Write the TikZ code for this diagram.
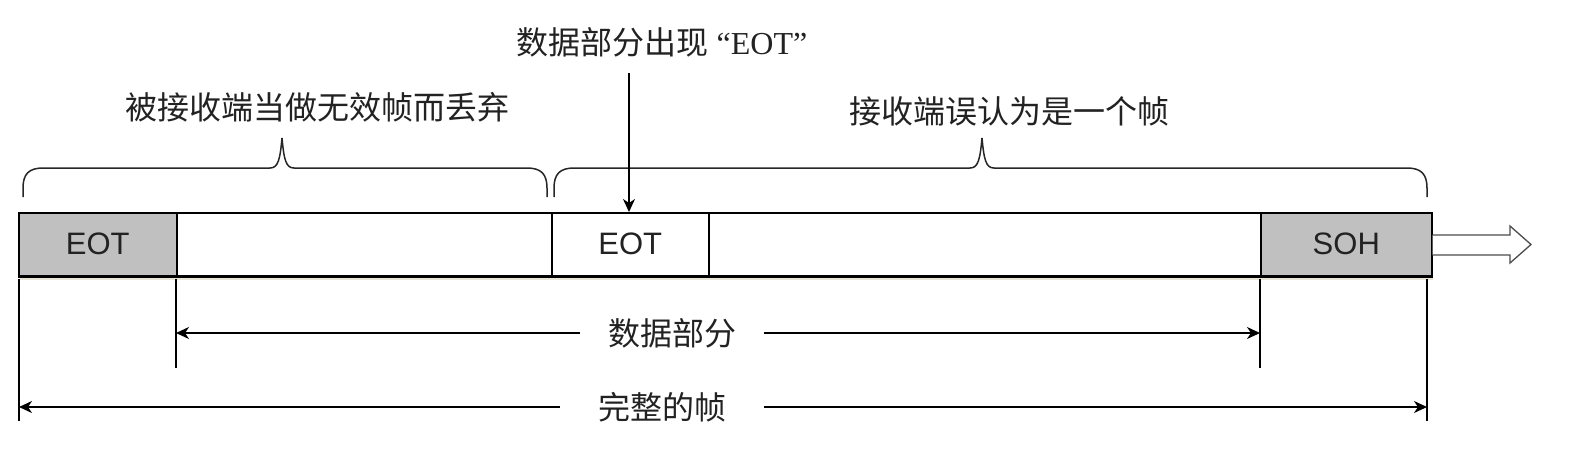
\documentclass[tikz,border=0pt]{standalone}
\usepackage{fontspec}
\newfontfamily\cjk{Noto Sans CJK SC}
\newfontfamily\lsans{Liberation Sans}
\newfontfamily\lserif{Liberation Serif}
\usetikzlibrary{arrows.meta}
\definecolor{boxgray}{HTML}{C0C0C0}
\definecolor{txt}{HTML}{222222}
\newcommand\mybrace[3]{%
\draw[br] (#1,197) -- (#1,188) .. controls (#1,174) and ({#1+6},168) .. ({#1+20},168) -- ({#3-12},168) .. controls ({#3-4},168) and ({#3-2},160) .. (#3,138) .. controls ({#3+2},160) and ({#3+4},168) .. ({#3+12},168) -- ({#2-20},168) .. controls ({#2-6},168) and (#2,174) .. (#2,188) -- (#2,197);}
\begin{document}
\begin{tikzpicture}[x=1pt,y=-1pt,
  cell/.style={draw=black,line width=1.6pt,minimum height=63pt,inner sep=0pt,anchor=north west,text=txt,font=\lsans\fontsize{31}{34}\selectfont},
  graycell/.style={cell,fill=boxgray},
  whitecell/.style={cell,fill=white},
  lbl/.style={text=txt,inner sep=0pt,font=\cjk\fontsize{32}{36}\selectfont},
  br/.style={draw=black!85,line width=1.5pt},
  tick/.style={draw=black,line width=1.3pt},
  arr/.style={draw=black,line width=1.6pt,-{Stealth[length=13pt,width=12pt,inset=4pt]}},
  hollow/.style={draw=black!70,line width=1.3pt,fill=white,line join=miter}
]
\useasboundingbox (0,0) rectangle (1580,456);
% shadow under bar
\fill[color={rgb,255:red,232;green,229;blue,214}] (20,276) rectangle (1433,280);
% frame cells
\node[graycell,minimum width=158pt] (eot1) at (18,212) {EOT};
\node[whitecell,minimum width=375pt] (d1) at (176,212) {};
\node[whitecell,minimum width=157pt] (eot2) at (551,212) {EOT};
\node[whitecell,minimum width=552pt] (d2) at (708,212) {};
\node[graycell,minimum width=171pt] (soh) at (1260,212) {SOH};
\draw[black,line width=2.4pt] (eot1.south west) -- (soh.south east);
% hollow output arrow
\draw[hollow] (soh.east |- 0,235) -- (1510,235) -- (1510,226) -- (1531,244.5) -- (1510,263) -- (1510,255) -- (soh.east |- 0,255);
% braces
\mybrace{23}{547}{282}
\mybrace{554}{1427}{982}
% top labels
\node[lbl] (lab1) at (317,107) {被接收端当做无效帧而丢弃};
\node[lbl] (lab2) at (1009,111) {接收端误认为是一个帧};
\node[lbl] (lab3) at (662,42) {数据部分出现\hspace{8pt}{\lserif “EOT”}};
\coordinate (a0) at (629,73);
\draw[arr] (a0) -- (a0 |- eot2.north);
% ticks
\coordinate (tl1) at (19,421);
\coordinate (tr1) at (1427,421);
\coordinate (tl2) at (176,368);
\coordinate (tr2) at (1260,368);
\draw[tick] (eot1.south west -| tl1) ++(0,2) -- (tl1);
\draw[tick] (soh.south east -| tr1) ++(0,2) -- (tr1);
\draw[tick] (d1.south west) ++(0,2) -- (tl2);
\draw[tick] (soh.south west) ++(0,2) -- (tr2);
% dimension labels
\node[lbl,inner xsep=28pt] (dat) at (672,333) {数据部分};
\node[lbl,inner xsep=38pt] (whole) at (662,407) {完整的帧};
\draw[arr] (dat.west) -- (dat.west -| tl2);
\draw[arr] (dat.east) -- (dat.east -| tr2);
\draw[arr] (whole.west) -- (whole.west -| tl1);
\draw[arr] (whole.east) -- (whole.east -| tr1);
\end{tikzpicture}
\end{document}
